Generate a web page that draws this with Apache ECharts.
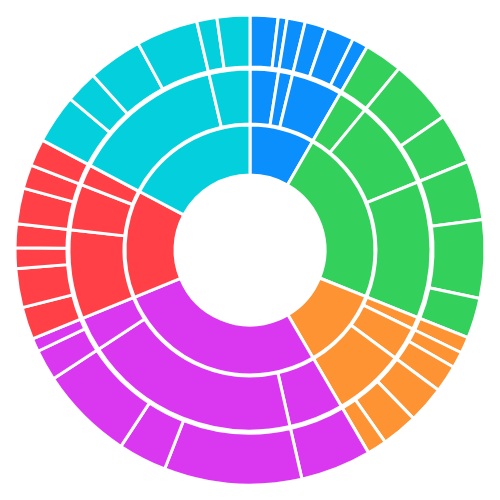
<!DOCTYPE html>
<html><head><meta charset="utf-8">
<script src="https://cdn.jsdelivr.net/npm/echarts@6/dist/echarts.min.js"></script>
<style>html,body{margin:0;padding:0;background:#fff}#c{width:500px;height:500px}</style>
</head><body><div id="c"></div>
<script>
const groups = ['A','B','C','D','E','F'];
const colors = ['#0b8ffc','#33d15c','#fe9333','#da38f0','#ff4147','#04d0dd'];
// leaf values per middle-ring node, per top-level group
const blueLeaves = [[6.9,2.2],[4.5],[5.3,7.1,3.9]];
const greenLeaves = [[9.4],[16,12.5],[14.6,19.3,10]];
const orangeLeaves = [[4],[4,6.7],[9.2,9,4.8]];
const purpleLeaves = [[17.5],[34,12,23.4],[7.7,3.3]];
const redLeaves = [[8,9.6,5.1,5.9],[8.8,5.9],[6.7]];
const cyanLeaves = [[12.1,8,13.5,15.3],[5,8.1]];
const all = [blueLeaves,greenLeaves,orangeLeaves,purpleLeaves,redLeaves,cyanLeaves];

const data = all.map((g,i)=>({
  name: groups[i], itemStyle:{color:colors[i]},
  children: g.map((m,j)=>({name: groups[i]+(j+1), itemStyle:{color:colors[i]},
    children: m.map((v,k)=>({name: groups[i]+(j+1)+'-'+(k+1), value: v, itemStyle:{color:colors[i]}}))}))
}));
const chart = echarts.init(document.getElementById('c'));
chart.setOption({
  animation:false,
  series:[{
    type:'sunburst', center:['50%','50%'], sort:null, startAngle:90,
    data,
    label:{show:false},
    itemStyle:{borderColor:'#fff', borderWidth:3, opacity:1},
    emphasis:{disabled:true},
    levels:[{},{r0:75,r:125},{r0:126,r:181},{r0:183,r:235}]
  }]
});
</script></body></html>
